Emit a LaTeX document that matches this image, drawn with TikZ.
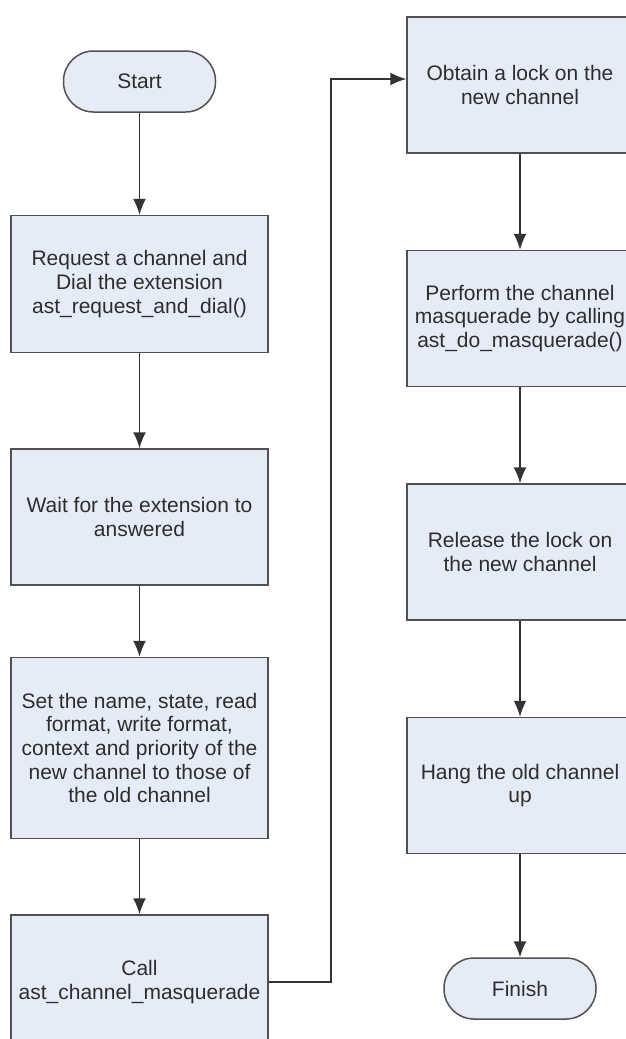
\documentclass[tikz,border=0pt]{standalone}
\usepackage{fontspec}
\setmainfont{Liberation Sans}
\usetikzlibrary{arrows.meta,positioning}

\definecolor{boxfill}{RGB}{230,236,247}
\definecolor{boxline}{RGB}{80,80,80}
\definecolor{boxtext}{RGB}{45,45,45}

\begin{document}
\begin{tikzpicture}[x=1pt,y=-1pt,
        line width=1.5pt,color=black!80,
        font=\fontsize{21}{23.7}\selectfont,
        flow/.style={-{Latex[length=16pt,width=13pt]}},
        block/.style={draw=boxline,fill=boxfill,text=boxtext,rectangle,
          minimum width=257pt,minimum height=136pt,align=center,inner sep=0pt},
        rblock/.style={block,minimum width=226pt},
        term/.style={draw=boxline,fill=boxfill,text=boxtext,rectangle,
          rounded corners=30pt,minimum width=152pt,minimum height=61pt}]

  \useasboundingbox (0,0) rectangle (625,1039);

  % left column
  \node[term] (start) at (139.5,81.5) {Start};
  \node[block,minimum height=137pt] (1) [below=102pt of start]
    {Request a channel and\\Dial the extension\\ast\_request\_and\_dial()};
  \node[block] (2) [below=95pt of 1] {Wait for the extension to\\answered};
  \node[block,minimum height=181pt] (3) [below=71pt of 2]
    {Set the name, state, read\\format, write format,\\context and priority of the\\new channel to those of\\the old channel};
  \node[block,minimum height=134pt] (4) [below=75pt of 3] {Call\\ast\_channel\_masquerade};

  % right column
  \node[rblock] (5) at (520,85) {Obtain a lock on the\\new channel};
  \node[rblock] (6) [below=96pt of 5]
    {Perform the channel\\masquerade by calling\\ast\_do\_masquerade()};
  \node[rblock] (7) [below=96pt of 6] {Release the lock on\\the new channel};
  \node[rblock] (8) [below=96pt of 7] {Hang the old channel\\up};
  \node[term] (finish) [below=103pt of 8] {Finish};

  \path[flow] (start) edge (1)
        (1) edge (2)
        (2) edge (3)
        (3) edge (4)
        (5) edge (6)
        (6) edge (7)
        (7) edge (8)
        (8) edge (finish);

  \draw[flow] (4.east) -- ++(62,0) |- ([yshift=6pt]5.west);

\end{tikzpicture}
\end{document}
